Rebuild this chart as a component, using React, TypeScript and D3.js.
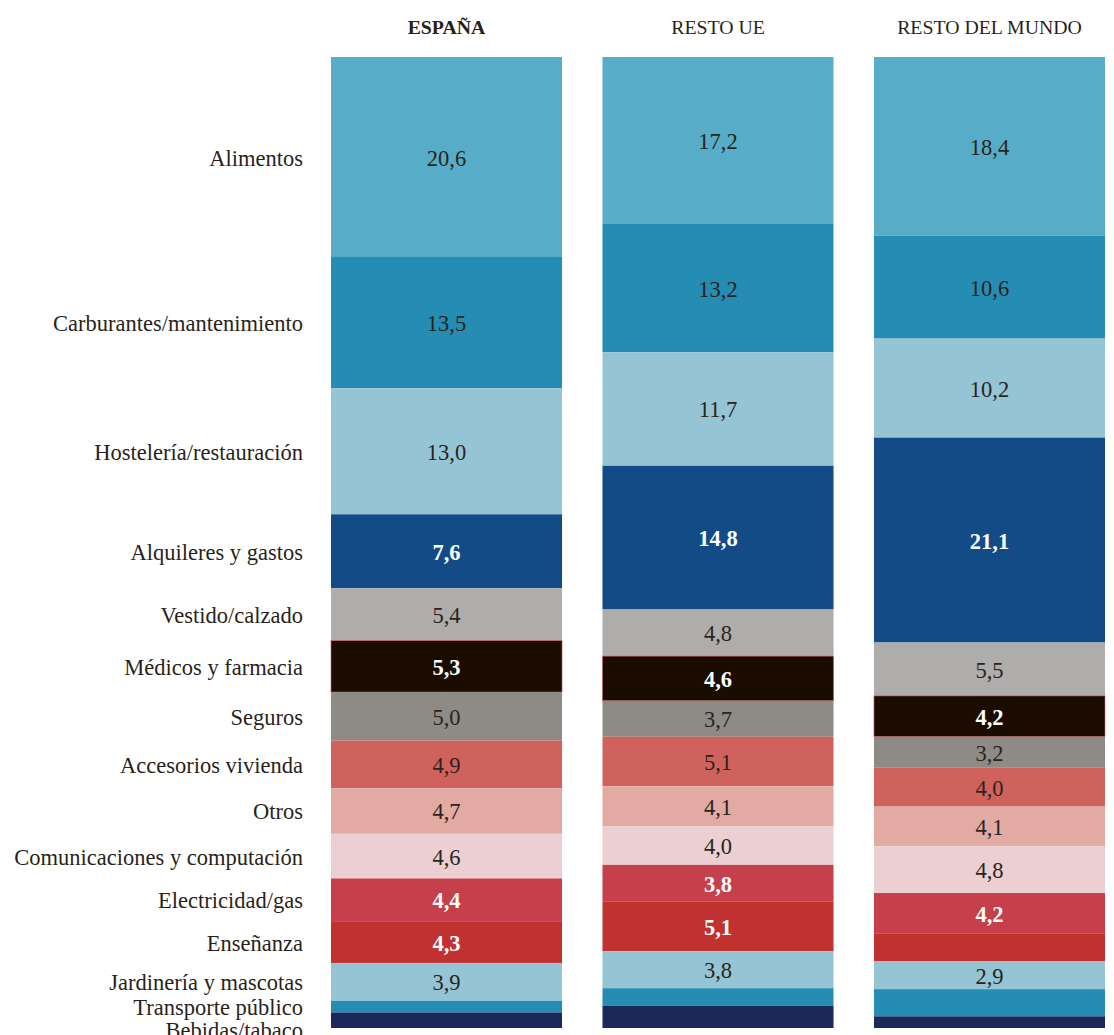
import React from "react";
import * as d3 from "d3";

const regions = ["ESPAÑA", "RESTO UE", "RESTO DEL MUNDO"];
const categories = [
  "Alimentos",
  "Carburantes/mantenimiento",
  "Hostelería/restauración",
  "Alquileres y gastos",
  "Vestido/calzado",
  "Médicos y farmacia",
  "Seguros",
  "Accesorios vivienda",
  "Otros",
  "Comunicaciones y computación",
  "Electricidad/gas",
  "Enseñanza",
  "Jardinería y mascotas",
  "Transporte público",
  "Bebidas/tabaco",
];
const espana = [20.6, 13.5, 13.0, 7.6, 5.4, 5.3, 5.0, 4.9, 4.7, 4.6, 4.4, 4.3, 3.9, 1.2, 1.6];
const restoUE = [17.2, 13.2, 11.7, 14.8, 4.8, 4.6, 3.7, 5.1, 4.1, 4.0, 3.8, 5.1, 3.8, 1.8, 2.3];
const restoMundo = [18.4, 10.6, 10.2, 21.1, 5.5, 4.2, 3.2, 4.0, 4.1, 4.8, 4.2, 2.8, 2.9, 2.8, 1.2];
const colors = [
  "#57adc8", "#258cb4", "#95c5d4", "#134b86", "#afadab", "#1a0d00", "#8e8a86",
  "#d0625e", "#e2aaa2", "#ebcfd3", "#c5404a", "#c0312f", "#95c5d4", "#258cb4", "#1b2859",
];
const whiteText = [false, false, false, true, false, true, false, false, false, false, true, true, false, false, true];

const W = 1114, H = 1035;
const SERIF = "'Liberation Serif', 'DejaVu Serif', serif";

export default function App() {
  const seriesValues = [espana, restoUE, restoMundo];
  const rows = regions.map((r, i) => {
    const o: any = { region: r };
    categories.forEach((c, j) => (o[c] = seriesValues[i][j]));
    return o;
  });
  const stack = d3.stack<any>().keys(categories).offset(d3.stackOffsetExpand);
  const series = stack(rows);

  const x = d3.scaleBand<string>().domain(regions).range([331, 1105]).paddingInner(0.149).paddingOuter(0);
  const y = d3.scaleLinear().domain([0, 1]).range([57, 1028]);
  const fmt = (v: number) => v.toFixed(1).replace(".", ",");

  // category label positions from España column, with collision avoidance
  const labelY: number[] = [];
  series.forEach((s, j) => {
    const d = s[0];
    let c = (y(d[0]) + y(d[1])) / 2;
    if (j > 0 && c - labelY[j - 1] < 23) c = labelY[j - 1] + 23;
    labelY.push(c);
  });

  return (
    <svg width={W} height={H} style={{ position: "fixed", left: 0, top: 0, background: "#fff" }} fontFamily={SERIF}>
      {regions.map((r, i) => (
        <text key={r} x={(x(r) as number) + x.bandwidth() / 2} y={27} textAnchor="middle" dominantBaseline="central"
          fontSize={19.8} fontWeight={i === 0 ? 700 : 400} fill="#2a1f1a">{r}</text>
      ))}
      {series.map((s, j) => (
        <g key={categories[j]}>
          {s.map((d, i) => {
            const x0 = x(regions[i]) as number;
            const y0 = y(d[0]), y1 = y(d[1]);
            const v = seriesValues[i][j];
            return (
              <g key={regions[i]}>
                <rect x={x0} y={y0} width={x.bandwidth()} height={y1 - y0} fill={colors[j]}
                  stroke={j === 5 ? "#d0625e" : "none"} strokeWidth={j === 5 ? 0.6 : 0} />
                {v >= 2.9 && (
                  <text x={x0 + x.bandwidth() / 2} y={(y0 + y1) / 2 + 1} textAnchor="middle" dominantBaseline="central"
                    fontSize={22.5} fontWeight={whiteText[j] ? 700 : 400} fill={whiteText[j] ? "#fff" : "#2a2420"}>
                    {fmt(v)}
                  </text>
                )}
              </g>
            );
          })}
        </g>
      ))}
      {categories.map((c, j) => (
        <text key={c} x={303} y={labelY[j] + 1} textAnchor="end" dominantBaseline="central" fontSize={22.5} fill="#2a1f1a">{c}</text>
      ))}
    </svg>
  );
}
